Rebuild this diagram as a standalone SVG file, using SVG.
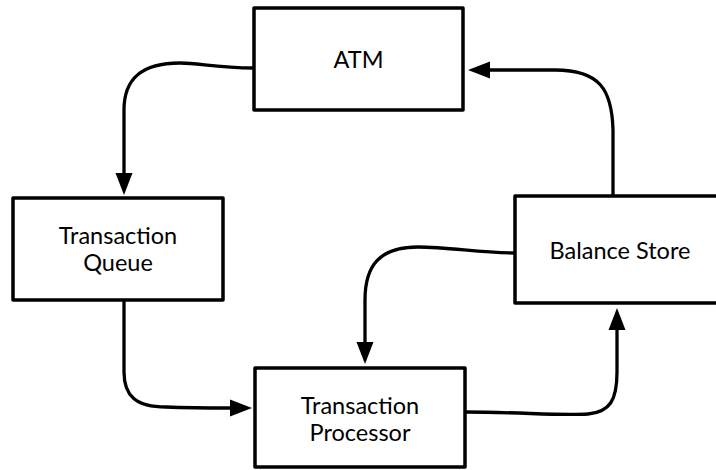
<svg xmlns="http://www.w3.org/2000/svg" width="716" height="470" viewBox="0 0 716 470">
<style>
.box{fill:#fff;stroke:#000;stroke-width:3.5;stroke-linejoin:round}
.lbl{font-family:Lato,"Liberation Sans",sans-serif;font-size:23.5px;fill:#000;text-anchor:middle}
.edge{fill:none;stroke:#000;stroke-width:3.3;stroke-linecap:butt}
</style>
<defs>
<marker id="arr" markerUnits="userSpaceOnUse" markerWidth="24" markerHeight="18" viewBox="0 0 24 18" refX="0" refY="9" orient="auto">
<path d="M0,0.5 L22,9 L0,17.5 z" fill="#000"/>
</marker>
</defs>
<rect width="716" height="470" fill="#fff"/>
<g id="connectors">
<path class="edge" marker-end="url(#arr)" d="M254,68 C215,68 200,63 180,63 C140,63 124,80 124,110 L124,173"/>
<path class="edge" marker-end="url(#arr)" d="M124,300 L124,372 C124,396 136,407 166,407 C190,408 210,408 230,408"/>
<path class="edge" marker-end="url(#arr)" d="M465,412 C520,412 560,416 588,414 C610,412 617,400 617,372 L617,330"/>
<path class="edge" marker-end="url(#arr)" d="M515,253 C480,253 450,247 418,247 C380,247 365,265 365,300 L365,342"/>
<path class="edge" marker-end="url(#arr)" d="M613,196 L613,130 C612,90 600,70 555,70 L490,70"/>
</g>
<g id="atm">
<rect class="box" x="254" y="8" width="209" height="102"/>
<text class="lbl" x="358.5" y="67.5">ATM</text>
</g>
<g id="queue">
<rect class="box" x="13" y="198" width="210" height="102"/>
<text class="lbl" x="118" y="243.5">Transaction</text>
<text class="lbl" x="118" y="270.5">Queue</text>
</g>
<g id="processor">
<rect class="box" x="255" y="368" width="210" height="99"/>
<text class="lbl" x="360" y="413.5">Transaction</text>
<text class="lbl" x="360" y="440.5">Processor</text>
</g>
<g id="balance">
<rect class="box" x="515" y="196" width="210" height="107"/>
<text class="lbl" x="620" y="258.5">Balance Store</text>
</g>
</svg>
